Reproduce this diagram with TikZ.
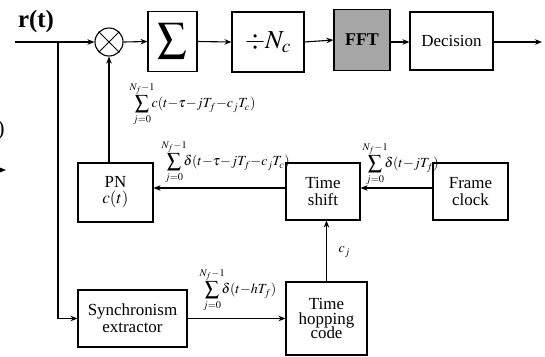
\documentclass[tikz,border=0pt]{standalone}
\usepackage{mathptmx}
\usepackage{fontspec}
\setmainfont{Liberation Serif}
\usetikzlibrary{arrows.meta}
\newcommand{\mm}{{-}}
\begin{document}
\begin{tikzpicture}[x=1bp,y=-1bp,
  line width=1.1bp,
  >={Stealth[length=7bp,width=5.5bp]},
  blk/.style={draw,rectangle,inner sep=1bp,align=center,font=\fontsize{17}{18}\selectfont},
  lbl/.style={inner sep=0pt,anchor=west,font=\fontsize{14}{15}\selectfont}
]
\useasboundingbox (0,0) rectangle (545,356);
% left cut-off fragments
\node[inner sep=0pt,font=\fontsize{22}{24}\selectfont] (frag) at (1,130) {)};
\coordinate (fragA) at (-12,170);
\coordinate (fragB) at (6,170);
\draw[->] (fragA) -- (fragB);

\node[inner sep=0pt,font=\fontsize{25}{27}\selectfont\bfseries] (rt) at (36,22) {r(t)};
\coordinate (in) at (15,42);
\coordinate (br) at (58,42);
\node[draw,circle,minimum size=28bp,inner sep=0pt] (mult) at (109,42) {};
\draw[line width=0.9bp] (mult.north east) -- (mult.south west) (mult.north west) -- (mult.south east);
\node[blk,minimum width=49bp,minimum height=60bp] (sum) at (172.5,41.5) {\fontsize{29}{30}\selectfont$\displaystyle\sum$};
\node[blk,minimum width=72bp,minimum height=60bp] (div) at (268,42) {\fontsize{26}{28}\selectfont$\div N_c$};
\node[blk,minimum width=56bp,minimum height=61bp,fill=black!35,font=\fontsize{18}{19}\selectfont\bfseries] (fft) at (362,40) {FFT};
\node[blk,minimum width=83bp,minimum height=58bp] (dec) at (451.5,41) {Decision};
\coordinate (out) at (542,42);

\node[blk,minimum width=75bp,minimum height=59bp] (pn) at (115.5,192.5) {PN\\[-2bp]$c(t)$};
\node[blk,minimum width=74bp,minimum height=57bp] (ts) at (323,191.5) {Time\\[-1bp]shift};
\node[blk,minimum width=75bp,minimum height=57bp] (fc) at (470.5,191.5) {Frame\\[-1bp]clock};
\node[blk,minimum width=109bp,minimum height=57bp] (sync) at (132.5,318.5) {Synchronism\\[-1bp]extractor};
\node[blk,minimum width=81bp,minimum height=73bp] (th) at (326.5,318.5) {Time\\[-3bp]hopping\\[-3bp]code};

\coordinate (yl) at (0,188);

\draw (in) -- (br);
\draw[->] (br) -- (mult.west);
\draw[->] (mult.east) -- (sum.west);
\draw[->] (sum.east) -- (div.west);
\draw[->] (div.east) -- (fft.west);
\draw[->] (fft.east |- br) -- (dec.west |- br);
\draw[->] (dec.east |- br) -- (out);
\draw[->] (pn.north -| mult) -- (mult.south);
\draw[->] (fc.west |- yl) -- (ts.east |- yl);
\draw[->] (ts.west |- yl) -- (pn.east |- yl);
\draw[->] (th.north) -- (th.north |- ts.south);
\draw[->] (sync.east) -- (th.west);
\draw[->] (br) |- (sync.west);

\node[lbl] (l1) at (129,104) {$\displaystyle\sum_{j=0}^{N_f-1}\!\!\!c(t\mm\tau\mm jT_f\mm c_jT_c)$};
\node[lbl] (l2) at (161,162) {$\displaystyle\sum_{j=0}^{N_f-1}\!\!\!\delta(t\mm\tau\mm jT_f\mm c_jT_c)$};
\node[lbl] (l3) at (362,164) {$\displaystyle\sum_{j=0}^{N_f-1}\!\!\!\delta(t\mm jT_f)$};
\node[lbl] (l4) at (199,290) {$\displaystyle\sum_{j=0}^{N_f-1}\!\!\!\delta(t\mm hT_f)$};
\node[lbl] (l5) at (338,252) {$c_j$};
\end{tikzpicture}
\end{document}
